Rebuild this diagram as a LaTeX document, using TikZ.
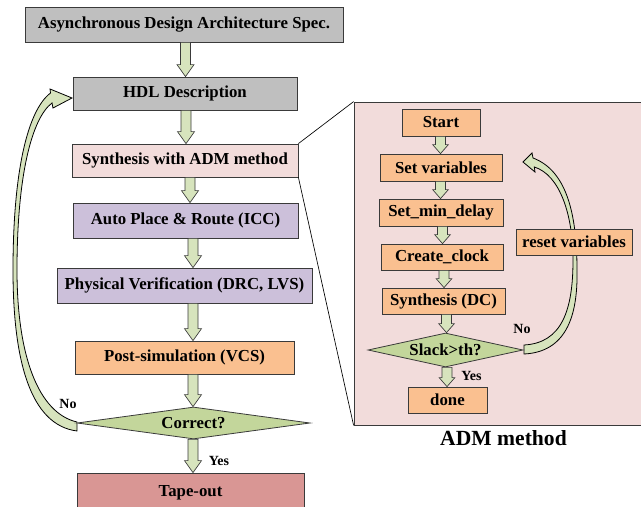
\documentclass[tikz,border=0pt]{standalone}
\usepackage{fontspec}
\setmainfont{Liberation Serif}
\usetikzlibrary{shapes.geometric,calc}

\definecolor{graybox}{HTML}{BFBFBF}
\definecolor{pinkbox}{HTML}{F2DCDB}
\definecolor{lavbox}{HTML}{CCC0DA}
\definecolor{orangebox}{HTML}{FAC090}
\definecolor{diagreen}{HTML}{C3D69B}
\definecolor{arrowgreen}{HTML}{D7E4BD}
\definecolor{tapebox}{HTML}{D99694}
\definecolor{edge}{HTML}{3A3A3A}

% straight block arrow: shaft half width, head half width, head length, x offset, from, to
\newcommand\blockarrow[6]{%
  \filldraw[fatarrow] let \p1=($(#5)+(#4,0)$), \p2=(#6) in
    (\x1-#1,\y1) -- (\x1-#1,\y2+#3) -- (\x1-#2,\y2+#3) -- (\x1,\y2)
    -- (\x1+#2,\y2+#3) -- (\x1+#1,\y2+#3) -- (\x1+#1,\y1) -- cycle;}

\begin{document}
\begin{tikzpicture}[x=0.75pt,y=-0.75pt,
  font=\fontsize{12.6}{15}\selectfont\bfseries,
  box/.style={rectangle, draw=edge, line width=0.6pt, inner sep=0pt, align=center},
  dia/.style={diamond, draw=edge, line width=0.6pt, inner sep=0pt, fill=diagreen},
  fatarrow/.style={draw=edge, line width=0.5pt, fill=arrowgreen, line join=miter},
  looparrow/.style={draw=black, line width=0.6pt, fill=arrowgreen, line join=miter},
  lbl/.style={font=\fontsize{10.5}{12}\selectfont\bfseries, inner sep=0pt},
  link/.style={draw=black, line width=0.5pt}]

\useasboundingbox (0,0) rectangle (641,506);
\clip (0,0) rectangle (641,506);

% ADM detail panel (extends past the right edge)
\node[box, fill=pinkbox, minimum width=218.25pt, minimum height=242.25pt] (panel) at (499.5,263.5) {};

% feedback loop: Correct? -> HDL Description
\filldraw[looparrow] (77,431) .. controls (30,425) and (13,360) .. (13,270)
  .. controls (13,170) and (28,110) .. (50.5,93) -- (50,89) -- (72,98) -- (53,108) -- (52,103)
  .. controls (32,118) and (17,175) .. (17,270)
  .. controls (17,355) and (38,413) .. (77,422) -- cycle;

% feedback loop: Slack>th? -> Set variables
\filldraw[looparrow] (524,354) .. controls (565,352) and (578,318) .. (577,270)
  .. controls (577,210) and (565,170) .. (533,158) -- (532,153) -- (523,162) -- (535,172) -- (534.3,167)
  .. controls (560,175) and (573,215) .. (573,260)
  .. controls (573,310) and (562,343) .. (524,345) -- cycle;

% main flow
\node[box, fill=graybox, minimum width=238.5pt, minimum height=26.25pt] (spec) at (184,24.5) {Asynchronous Design Architecture Spec.};
\node[box, fill=graybox, minimum width=168pt, minimum height=24.75pt] (hdl) at (185,93.5) {HDL Description};
\node[box, fill=pinkbox, minimum width=169.5pt, minimum height=24.75pt] (syn) at (185,160.5) {Synthesis with ADM method};
\node[box, fill=lavbox, minimum width=168.75pt, minimum height=26.25pt] (apr) at (185.5,220.5) {Auto Place \& Route (ICC)};
\node[box, fill=lavbox, minimum width=191.25pt, minimum height=26.25pt] (pv) at (184.5,285.5) {Physical Verification (DRC, LVS)};
\node[box, fill=orangebox, minimum width=164.25pt, minimum height=24.75pt] (post) at (184.5,357.5) {Post-simulation (VCS)};
\node[dia, minimum width=174.75pt, minimum height=24pt, shape aspect=7.3] (corr) at (193.5,423) {Correct?};
\node[box, fill=tapebox, minimum width=170.25pt, minimum height=29.25pt] (tape) at (190.5,492.5) {Tape-out};

% zoom lines to the panel
\draw[link] (syn.north east) -- (panel.north west);
\draw[link] (syn.south east) -- (panel.south west);

% ADM method steps
\node[box, fill=orangebox, minimum width=58.5pt, minimum height=20.25pt] (start) at (441,122.5) {Start};
\node[box, fill=orangebox, minimum width=91.5pt, minimum height=20.25pt] (setv) at (441,167.5) {Set variables};
\node[box, fill=orangebox, minimum width=93pt, minimum height=20.25pt] (setmin) at (441,212.5) {Set\_min\_delay};
\node[box, fill=orangebox, minimum width=91.5pt, minimum height=19.5pt] (clk) at (442,257) {Create\_clock};
\node[box, fill=orangebox, minimum width=92.25pt, minimum height=19.5pt] (sdc) at (443.5,301) {Synthesis (DC)};
\node[dia, minimum width=116.25pt, minimum height=25.5pt, shape aspect=4.56] (slack) at (445.5,350) {Slack>th?};
\node[box, fill=orangebox, minimum width=59.25pt, minimum height=19.5pt] (done) at (447.5,400) {done};
\node[box, fill=orangebox, minimum width=87pt, minimum height=19.5pt] (reset) at (574,242) {reset variables};

% block arrows, main flow
\blockarrow{3.75pt}{6.4pt}{9pt}{1.5}{spec.south}{hdl.north}
\blockarrow{3.75pt}{6.4pt}{9pt}{1}{hdl.south}{syn.north}
\blockarrow{3.75pt}{6.4pt}{9pt}{5}{syn.south}{apr.north}
\blockarrow{3.75pt}{6.4pt}{9pt}{7.5}{apr.south}{pv.north}
\blockarrow{3.75pt}{6.4pt}{9pt}{8.5}{pv.south}{post.north}
\blockarrow{3.75pt}{6.4pt}{9pt}{8.5}{post.south}{corr.north}
\blockarrow{3.75pt}{6.4pt}{9pt}{-0.5}{corr.south}{tape.north}

% block arrows, ADM method
\blockarrow{3.75pt}{5.9pt}{6.75pt}{-0.5}{start.south}{setv.north}
\blockarrow{3.75pt}{5.9pt}{6.75pt}{-0.5}{setv.south}{setmin.north}
\blockarrow{3.75pt}{5.9pt}{6.75pt}{1.5}{setmin.south}{clk.north}
\blockarrow{3.75pt}{5.9pt}{6.75pt}{2}{clk.south}{sdc.north}
\blockarrow{3.75pt}{5.9pt}{6.75pt}{3}{sdc.south}{slack.north}
\blockarrow{3.75pt}{5.9pt}{6.75pt}{1.5}{slack.south}{done.north}

% labels
\node[lbl] (no1) at (68,404) {No};
\node[lbl] (yes1) at (219,461) {Yes};
\node[lbl] (no2) at (522,329) {No};
\node[lbl] (yes2) at (471.5,376) {Yes};
\node[font=\fontsize{16.2}{19}\selectfont\bfseries, inner sep=0pt] (admtitle) at (503.5,438) {ADM method};
\end{tikzpicture}
\end{document}
